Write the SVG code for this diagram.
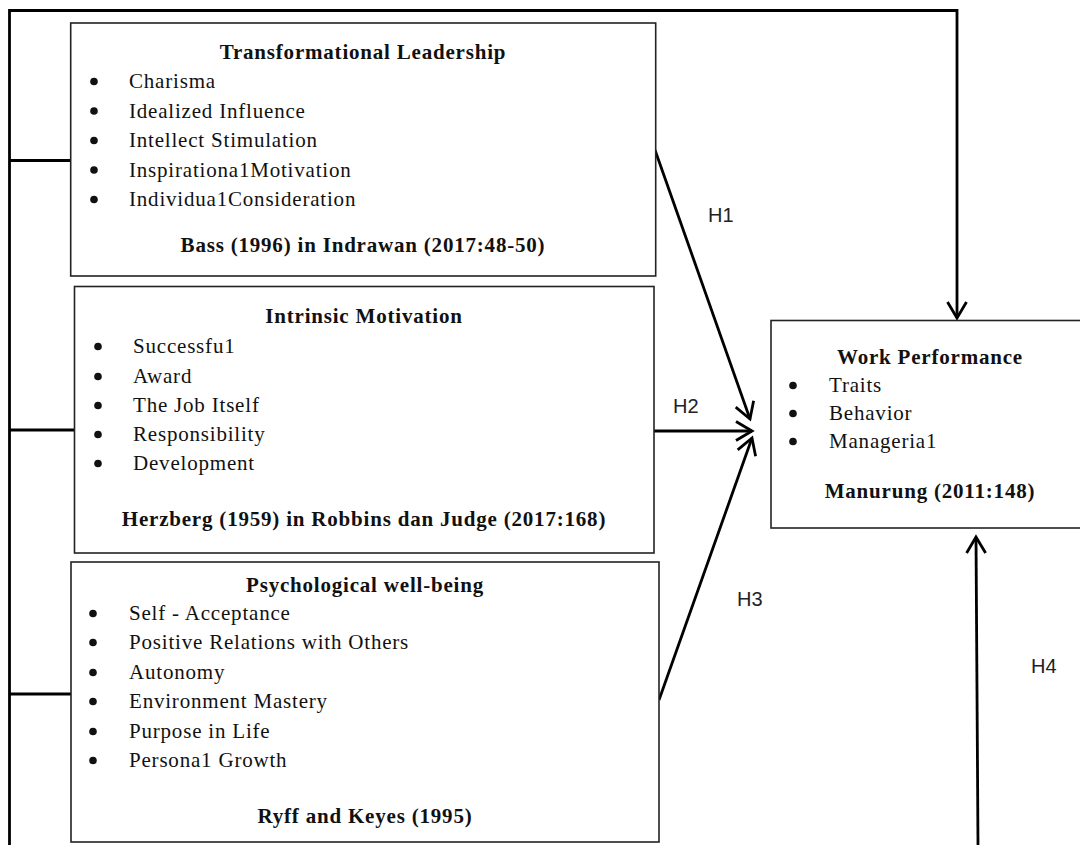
<svg xmlns="http://www.w3.org/2000/svg" width="1080" height="845" viewBox="0 0 1080 845">
<style>
  .box { fill: #fff; stroke: #222; stroke-width: 1.6; }
  .t { font-family: "Liberation Serif", "Times New Roman", serif; font-size: 21px; fill: #111; letter-spacing: 0.8px; }
  .b { font-weight: bold; text-anchor: middle; }
  .dot { fill: #111; }
  .h { font-family: "Liberation Sans", Arial, sans-serif; font-size: 20px; fill: #222; }
  .c { fill: none; stroke: #000; stroke-width: 2.8; }
  .a { fill: none; stroke: #000; stroke-width: 2.8; marker-end: url(#arr); }
</style>
<defs>
  <marker id="arr" markerUnits="userSpaceOnUse" markerWidth="40" markerHeight="40" viewBox="-20 -20 40 40" refX="0" refY="0" orient="auto">
    <path d="M-16,-9.5 L0,0 L-16,9.5" fill="none" stroke="#000" stroke-width="2.8" stroke-linejoin="miter"/>
  </marker>
</defs>
<rect width="1080" height="845" fill="#fff"/>

<g id="connectors">
  <path class="a" d="M9.5,845 V10.5 H957 V318"/>
  <line class="c" x1="9.5" y1="160.5" x2="71" y2="160.5"/>
  <line class="c" x1="9.5" y1="430" x2="74.5" y2="430"/>
  <line class="c" x1="9.5" y1="694" x2="71" y2="694"/>
  <line class="a" x1="655" y1="150" x2="750" y2="419"/>
  <line class="a" x1="652" y1="431" x2="752" y2="431"/>
  <line class="a" x1="659" y1="700" x2="752" y2="438"/>
  <line class="a" x1="978" y1="845" x2="976" y2="537"/>
  <text class="h" x="708" y="222">H1</text>
  <text class="h" x="673" y="413">H2</text>
  <text class="h" x="737" y="606">H3</text>
  <text class="h" x="1031" y="673">H4</text>
</g>

<g id="transformational-leadership">
  <rect class="box" x="70.7" y="23" width="585" height="253"/>
  <text class="t b" x="363" y="59">Transformational Leadership</text>
  <circle class="dot" cx="94" cy="81.5" r="3.8"/><text class="t" x="129" y="88">Charisma</text>
  <circle class="dot" cx="94" cy="111" r="3.8"/><text class="t" x="129" y="117.5">Idealized Influence</text>
  <circle class="dot" cx="94" cy="140.5" r="3.8"/><text class="t" x="129" y="147">Intellect Stimulation</text>
  <circle class="dot" cx="94" cy="170" r="3.8"/><text class="t" x="129" y="176.5">Inspirationa1Motivation</text>
  <circle class="dot" cx="94" cy="199.5" r="3.8"/><text class="t" x="129" y="206">Individua1Consideration</text>
  <text class="t b" x="363" y="252">Bass (1996) in Indrawan (2017:48-50)</text>
</g>

<g id="intrinsic-motivation">
  <rect class="box" x="74.5" y="286.5" width="579.5" height="266.5"/>
  <text class="t b" x="364" y="323">Intrinsic Motivation</text>
  <circle class="dot" cx="98" cy="346.5" r="3.8"/><text class="t" x="133" y="353">Successfu1</text>
  <circle class="dot" cx="98" cy="376.5" r="3.8"/><text class="t" x="133" y="383">Award</text>
  <circle class="dot" cx="98" cy="405.5" r="3.8"/><text class="t" x="133" y="412">The Job Itself</text>
  <circle class="dot" cx="98" cy="434.5" r="3.8"/><text class="t" x="133" y="441">Responsibility</text>
  <circle class="dot" cx="98" cy="463.5" r="3.8"/><text class="t" x="133" y="470">Development</text>
  <text class="t b" x="364" y="526">Herzberg (1959) in Robbins  dan Judge (2017:168)</text>
</g>

<g id="psychological-well-being">
  <rect class="box" x="71" y="562" width="588" height="280"/>
  <text class="t b" x="365" y="592">Psychological well-being</text>
  <circle class="dot" cx="93" cy="613.5" r="3.8"/><text class="t" x="129" y="620">Self - Acceptance</text>
  <circle class="dot" cx="93" cy="642.5" r="3.8"/><text class="t" x="129" y="649">Positive Relations with Others</text>
  <circle class="dot" cx="93" cy="672.5" r="3.8"/><text class="t" x="129" y="679">Autonomy</text>
  <circle class="dot" cx="93" cy="701.5" r="3.8"/><text class="t" x="129" y="708">Environment Mastery</text>
  <circle class="dot" cx="93" cy="731.5" r="3.8"/><text class="t" x="129" y="738">Purpose in Life</text>
  <circle class="dot" cx="93" cy="760.5" r="3.8"/><text class="t" x="129" y="767">Persona1 Growth</text>
  <text class="t b" x="365" y="823">Ryff and Keyes (1995)</text>
</g>

<g id="work-performance">
  <rect class="box" x="771" y="320.5" width="320" height="207.5"/>
  <text class="t b" x="930" y="364">Work Performance</text>
  <circle class="dot" cx="793" cy="385.5" r="3.8"/><text class="t" x="829" y="392">Traits</text>
  <circle class="dot" cx="793" cy="413.5" r="3.8"/><text class="t" x="829" y="420">Behavior</text>
  <circle class="dot" cx="793" cy="441.5" r="3.8"/><text class="t" x="829" y="448">Manageria1</text>
  <text class="t b" x="930" y="498">Manurung  (2011:148)</text>
</g>
</svg>
